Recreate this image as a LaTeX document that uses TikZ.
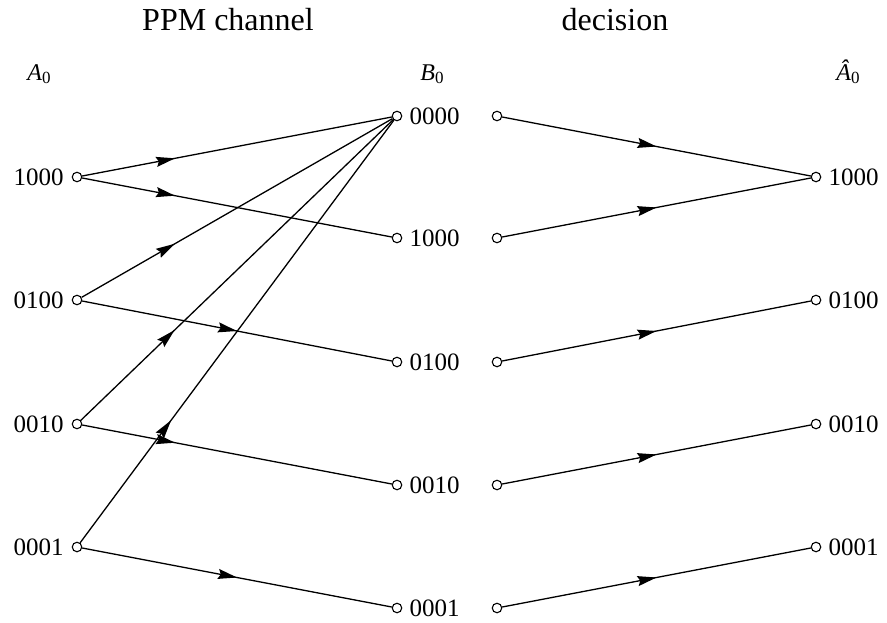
\documentclass[tikz,border=0pt]{standalone}
\usepackage{fontspec}
\setmainfont{Liberation Serif}
\usetikzlibrary{arrows.meta,decorations.markings}
\begin{document}
\begin{tikzpicture}[x=1pt,y=-1pt,
  dot/.style={circle,draw,fill=white,line width=1.1pt,inner sep=0pt,minimum size=9.5pt},
  lab/.style={font=\fontsize{25}{25}\selectfont,inner sep=0pt},
  title/.style={font=\fontsize{32}{32}\selectfont,inner sep=0pt},
  sym/.style={font=\fontsize{24}{24}\selectfont,inner sep=0pt,anchor=base},
  link/.style={line width=1.3pt},
  arrowat/.style={link,postaction={decorate},
    decoration={markings,mark=at position #1 with {\arrow{Stealth[length=19pt,width=10pt,inset=2.5pt]}}}}
]
\useasboundingbox (0,0) rectangle (887,622);

% headings
\node[title] (tch) at (228,20) {PPM channel};
\node[title] (tdec) at (615,20) {decision};
\newcommand{\subz}{\raisebox{-3.5pt}{\fontsize{17}{17}\selectfont 0}}
\node[sym] (sA) at (39,80) {\textit{A}\subz};
\node[sym] (sB) at (432,80) {\textit{B}\subz};
\node[sym] (sAh) at (848,80) {\textit{Â}\subz};

% channel inputs
\foreach \n/\y/\t in {1/177/1000,2/300/0100,3/424/0010,4/547/0001}{
  \node[dot] (a\n) at (77,\y) {};
  \node[lab,anchor=east] (la\n) at ([xshift=-8pt]a\n.west) {\t};
}
% channel outputs
\foreach \n/\y/\t in {0/116/0000,1/238/1000,2/362/0100,3/485/0010,4/608/0001}{
  \node[dot] (b\n) at (397,\y) {};
  \node[lab,anchor=west] (lb\n) at ([xshift=7pt]b\n.east) {\t};
  \node[dot] (c\n) at (497,\y) {};
}
% decisions
\foreach \n/\y/\t in {1/177/1000,2/300/0100,3/424/0010,4/547/0001}{
  \node[dot] (d\n) at (816,\y) {};
  \node[lab,anchor=west] (ld\n) at ([xshift=7pt]d\n.east) {\t};
}

% channel transitions
\draw[arrowat=0.3] (a1) -- (b0);
\draw[arrowat=0.3] (a1) -- (b1);
\draw[arrowat=0.3] (a2) -- (b0);
\draw[arrowat=0.5] (a2) -- (b2);
\draw[arrowat=0.3] (a3) -- (b0);
\draw[arrowat=0.3] (a3) -- (b3);
\draw[arrowat=0.29] (a4) -- (b0);
\draw[arrowat=0.5] (a4) -- (b4);

% decision rule
\draw[arrowat=0.5] (c0) -- (d1);
\draw[arrowat=0.5] (c1) -- (d1);
\draw[arrowat=0.5] (c2) -- (d2);
\draw[arrowat=0.5] (c3) -- (d3);
\draw[arrowat=0.5] (c4) -- (d4);
\end{tikzpicture}
\end{document}
